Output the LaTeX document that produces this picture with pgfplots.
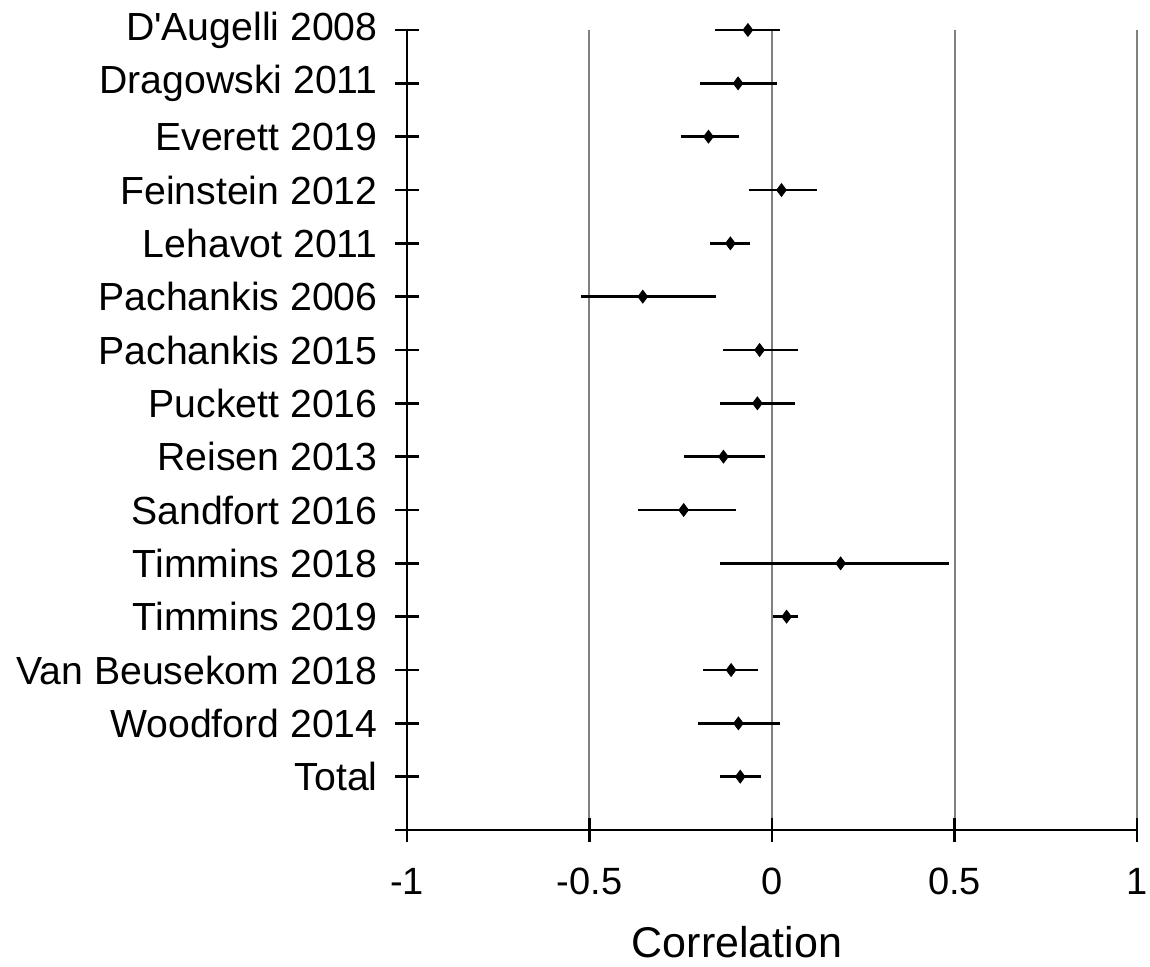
\documentclass[border=0pt]{standalone}
\usepackage{fontspec}
\setmainfont{Liberation Sans}
\usepackage{pgfplots}
\usepackage{pgfplotstable}
\pgfplotsset{compat=1.18}

% row position, estimate, lower and upper limit
\pgfplotstableread{
row  r       lo      hi
15  -0.066  -0.155   0.022
14  -0.093  -0.196   0.015
13  -0.174  -0.249  -0.091
12   0.026  -0.062   0.123
11  -0.114  -0.169  -0.059
10  -0.354  -0.523  -0.153
9   -0.034  -0.135   0.070
8   -0.040  -0.142   0.063
7   -0.133  -0.242  -0.018
6   -0.242  -0.368  -0.099
5    0.188  -0.143   0.484
4    0.040   0.004   0.070
3   -0.112  -0.190  -0.038
2   -0.092  -0.202   0.023
1   -0.087  -0.143  -0.030
}\forest

\begin{document}
\begin{tikzpicture}
\useasboundingbox (-203.5pt,-68pt) rectangle (371.5pt,415pt);
\begin{axis}[
    scale only axis,
    width=365pt,
    height=400pt,
    xmin=-1, xmax=1,
    ymin=0, ymax=15,
    axis x line=bottom,
    axis y line=left,
    axis line style={-, black, line width=1.3pt},
    tick style={black, line width=1.3pt},
    tick align=center,
    major tick length=12pt,
    xtick={-1,-0.5,0,0.5,1},
    xticklabels={-1,-0.5,0,0.5,1},
    ytick={0,...,15},
    yticklabels={,Total,Woodford 2014,Van Beusekom 2018,Timmins 2019,Timmins 2018,
        Sandfort 2016,Reisen 2013,Puckett 2016,Pachankis 2015,Pachankis 2006,
        Lehavot 2011,Feinstein 2012,Everett 2019,Dragowski 2011,D\textquotesingle Augelli 2008},
    xmajorgrids,
    grid style={gray, line width=1pt},
    xticklabel style={font=\fontsize{19}{22}\selectfont, inner sep=0pt, anchor=north, yshift=-13pt},
    yticklabel style={font=\fontsize{19.6}{22}\selectfont, inner sep=0pt, anchor=east, xshift=-8.5pt},
    xlabel={Correlation},
    xlabel style={font=\fontsize{21.5}{24}\selectfont, inner sep=0pt,
        at={(axis description cs:0.452,0)}, anchor=north, yshift=-48pt},
    clip=false,
]
\addplot[only marks, black, mark=diamond*, mark size=3.2pt,
    error bars/.cd, x dir=both, x explicit, error mark=none,
    error bar style={line width=1.3pt, black}]
    table[x=r, y=row,
          x error plus expr=\thisrow{hi}-\thisrow{r},
          x error minus expr=\thisrow{r}-\thisrow{lo}] {\forest};
\end{axis}
\end{tikzpicture}
\end{document}
